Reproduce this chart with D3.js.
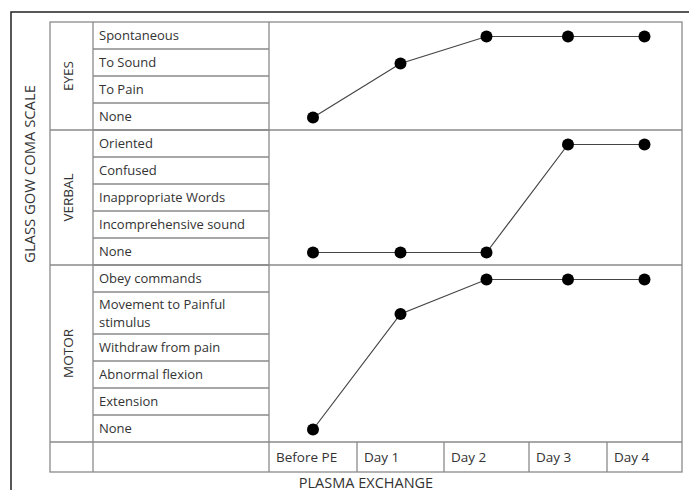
<!DOCTYPE html>
<html>
<head>
<meta charset="utf-8">
<script src="https://cdn.jsdelivr.net/npm/d3@7"></script>
<style>
  body { margin: 0; background: #fff; }
  text { font-family: "Open Sans", sans-serif; fill: #333; }
</style>
</head>
<body>
<div id="chart"></div>
<script>
// Data
const days = ["Before PE", "Day 1", "Day 2", "Day 3", "Day 4"];
const sections = ["EYES", "VERBAL", "MOTOR"];
const eyesLevels = ["Spontaneous", "To Sound", "To Pain", "None"];
const verbalLevels = ["Oriented", "Confused", "Inappropriate Words", "Incomprehensive sound", "None"];
const motorLevels = ["Obey commands", "Movement to Painful stimulus", "Withdraw from pain", "Abnormal flexion", "Extension", "None"];
const eyesScores = ["None", "To Sound", "Spontaneous", "Spontaneous", "Spontaneous"];
const verbalScores = ["None", "None", "None", "Oriented", "Oriented"];
const motorScores = ["None", "Movement to Painful stimulus", "Obey commands", "Obey commands", "Obey commands"];

const width = 689, height = 490;

// Table layout
const colA = 50, colB = 93, colC = 269, colEnd = 682;
const tableTop = 22, rowH = 27, tallRowH = 42, axisRowH = 30;
const dayEdges = [269, 357, 444, 529, 607, 682];
const gridColor = "#8a8a8a";

const svg = d3.select("#chart")
  .append("svg")
    .attr("width", width)
    .attr("height", height);

// Outer frame (top and left only)
svg.append("path")
    .attr("d", `M11,${height} V12 H${width}`)
    .attr("fill", "none")
    .attr("stroke", "#222")
    .attr("stroke-width", 1.5);

// Build rows
const levelsBySection = { EYES: eyesLevels, VERBAL: verbalLevels, MOTOR: motorLevels };
const rows = [];
const sectionSpans = [];
let y0 = tableTop;
sections.forEach(s => {
    const start = y0;
    levelsBySection[s].forEach(l => {
        const h = l.startsWith("Movement") ? tallRowH : rowH;
        rows.push({ section: s, level: l, y: y0, h: h });
        y0 += h;
    });
    sectionSpans.push({ section: s, y: start, h: y0 - start });
});
const axisTop = y0, tableBottom = y0 + axisRowH;

// Y scale: section + level -> row centre
const y = d3.scaleOrdinal()
    .domain(rows.map(r => r.section + "|" + r.level))
    .range(rows.map(r => r.y + r.h / 2 + 1));

// X scale: day -> centre of its column cell
const x = d3.scaleOrdinal()
    .domain(days)
    .range(days.map((d, i) => (dayEdges[i] + dayEdges[i + 1]) / 2));

const grid = svg.append("g")
    .attr("stroke", gridColor)
    .attr("stroke-width", 1.3)
    .attr("fill", "none");

// Outer table border
grid.append("rect")
    .attr("x", colA).attr("y", tableTop)
    .attr("width", colEnd - colA).attr("height", tableBottom - tableTop);

// Vertical column lines
[colB, colC].forEach(cx => {
    grid.append("line").attr("x1", cx).attr("x2", cx).attr("y1", tableTop).attr("y2", tableBottom);
});

// Row lines within the level column
rows.slice(1).forEach(r => {
    grid.append("line").attr("x1", colB).attr("x2", colC).attr("y1", r.y).attr("y2", r.y);
});

// Section separators across the whole table
sectionSpans.slice(1).forEach(s => {
    grid.append("line").attr("x1", colA).attr("x2", colEnd).attr("y1", s.y).attr("y2", s.y);
});
grid.append("line").attr("x1", colA).attr("x2", colEnd).attr("y1", axisTop).attr("y2", axisTop);

// Day dividers in the axis row
dayEdges.slice(1, -1).forEach(dx => {
    grid.append("line").attr("x1", dx).attr("x2", dx).attr("y1", axisTop).attr("y2", tableBottom);
});

// Level labels
rows.forEach(r => {
    const t = svg.append("text")
        .attr("x", colB + 6)
        .attr("font-size", 13);
    if (r.level.startsWith("Movement")) {
        t.append("tspan").attr("x", colB + 6).attr("y", r.y + 12).attr("dy", "0.35em").text("Movement to Painful");
        t.append("tspan").attr("x", colB + 6).attr("y", r.y + 30).attr("dy", "0.35em").text("stimulus");
    } else {
        t.attr("y", r.y + r.h / 2).attr("dy", "0.35em").text(r.level);
    }
});

// Section labels (rotated)
sectionSpans.forEach(s => {
    svg.append("text")
        .attr("transform", `translate(${(colA + colB) / 2 - 3},${s.y + s.h / 2}) rotate(-90)`)
        .attr("text-anchor", "middle")
        .attr("dy", "0.35em")
        .attr("font-size", 13.5)
        .text(s.section);
});

// Day labels
days.forEach((d, i) => {
    svg.append("text")
        .attr("x", dayEdges[i] + 7)
        .attr("y", axisTop + axisRowH / 2)
        .attr("dy", "0.35em")
        .attr("font-size", 13.5)
        .text(d);
});

// Axis titles
svg.append("text")
    .attr("transform", `translate(30,174) rotate(-90)`)
    .attr("text-anchor", "middle")
    .attr("dy", "0.35em")
    .attr("font-size", 14.8)
    .text("GLASS GOW COMA SCALE");

svg.append("text")
    .attr("x", (colA + colEnd) / 2)
    .attr("y", 483)
    .attr("text-anchor", "middle")
    .attr("dy", "0.35em")
    .attr("font-size", 14.5)
    .text("PLASMA EXCHANGE");

// Series lines and dots
const series = [
    { section: "EYES", values: eyesScores },
    { section: "VERBAL", values: verbalScores },
    { section: "MOTOR", values: motorScores }
];

const line = d3.line()
    .x(d => x(d.day))
    .y(d => y(d.key));

series.forEach(s => {
    const pts = s.values.map((v, i) => ({ day: days[i], key: s.section + "|" + v }));
    svg.append("path")
        .datum(pts)
        .attr("fill", "none")
        .attr("stroke", "#444")
        .attr("stroke-width", 1.2)
        .attr("d", line);
    svg.append("g")
        .selectAll("circle")
        .data(pts)
        .join("circle")
            .attr("cx", d => x(d.day))
            .attr("cy", d => y(d.key))
            .attr("r", 6)
            .attr("fill", "#000");
});
</script>
</body>
</html>
